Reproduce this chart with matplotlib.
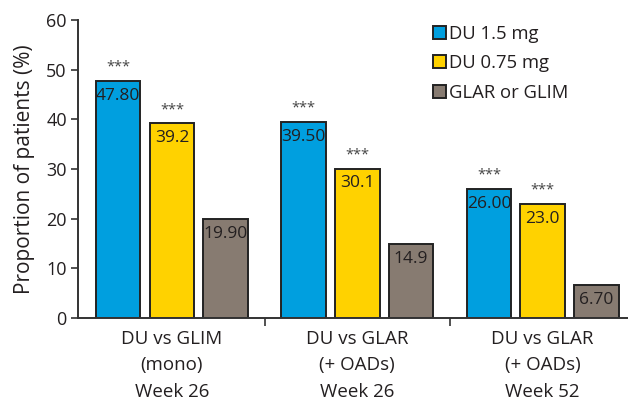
import matplotlib
matplotlib.use("Agg")
from matplotlib import pyplot as plt
from matplotlib.patches import Patch
import numpy as np

# data
groups = ["DU vs GLIM\n(mono)\nWeek 26",
          "DU vs GLAR\n(+ OADs)\nWeek 26",
          "DU vs GLAR\n(+ OADs)\nWeek 52"]
series = ["DU 1.5 mg", "DU 0.75 mg", "GLAR or GLIM"]
du15 = [47.80, 39.50, 26.00]
du075 = [39.2, 30.1, 23.0]
comparator = [19.90, 14.9, 6.70]
du15_labels = ["47.80", "39.50", "26.00"]
du075_labels = ["39.2", "30.1", "23.0"]
comparator_labels = ["19.90", "14.9", "6.70"]
stars = ["***", "***", None]

colors = ["#009fdf", "#ffd200", "#877b71"]
text_color = "#231f20"

plt.rcParams['font.family'] = ['Open Sans', 'DejaVu Sans']

fig = plt.figure(figsize=(6.28, 4.01), dpi=100)
ax = fig.add_axes([0.124, 0.207, 0.876, 0.743])

x = np.arange(len(groups))
width = 0.24
offsets = [-0.29, 0.0, 0.29]
values = [du15, du075, comparator]
labels = [du15_labels, du075_labels, comparator_labels]

for i in range(3):
    bars = ax.bar(x + offsets[i], values[i], width, color=colors[i],
                  edgecolor="#222222", linewidth=1.4, label=series[i])
    for b, lab in zip(bars, labels[i]):
        # value printed just inside the top of each bar
        ax.text(b.get_x() + b.get_width() / 2, b.get_height() - 1.4, lab,
                ha="center", va="top", fontsize=12.5, color=text_color)
        if stars[i]:
            ax.text(b.get_x() + b.get_width() / 2, b.get_height() + 1.2,
                    stars[i], ha="center", va="bottom", fontsize=10.5,
                    color="#444444")

ax.set_ylim(0, 60)
ax.set_xlim(-0.507, 2.46)
ax.set_yticks([0, 10, 20, 30, 40, 50, 60])
ax.tick_params(axis="y", labelsize=13, colors="#333333", length=5,
               width=1.2, labelcolor=text_color, pad=3)
ax.set_xticks([0.5, 1.5])
ax.set_xticklabels(["", ""])
ax.tick_params(axis="x", length=6, width=1.2, colors="#333333")
for xi, g in zip(x, groups):
    ax.text(xi, -2.4, g, ha="center", va="top", fontsize=13.5,
            color=text_color, linespacing=1.6)

ax.set_ylabel("Proportion of patients (%)", fontsize=15, color=text_color,
              labelpad=8)
for s in ["top", "right"]:
    ax.spines[s].set_visible(False)
for s in ["left", "bottom"]:
    ax.spines[s].set_color("#333333")
    ax.spines[s].set_linewidth(1.4)

handles = [Patch(facecolor=c, edgecolor="#222222", linewidth=1.4) for c in colors]
ax.legend(handles, series, loc="upper left", bbox_to_anchor=(0.615, 1.04),
          frameon=False, fontsize=13.3, handlelength=0.7, handleheight=0.7,
          handletextpad=0.2, labelspacing=0.62, labelcolor=text_color)

fig.savefig("out.png", dpi=100)
